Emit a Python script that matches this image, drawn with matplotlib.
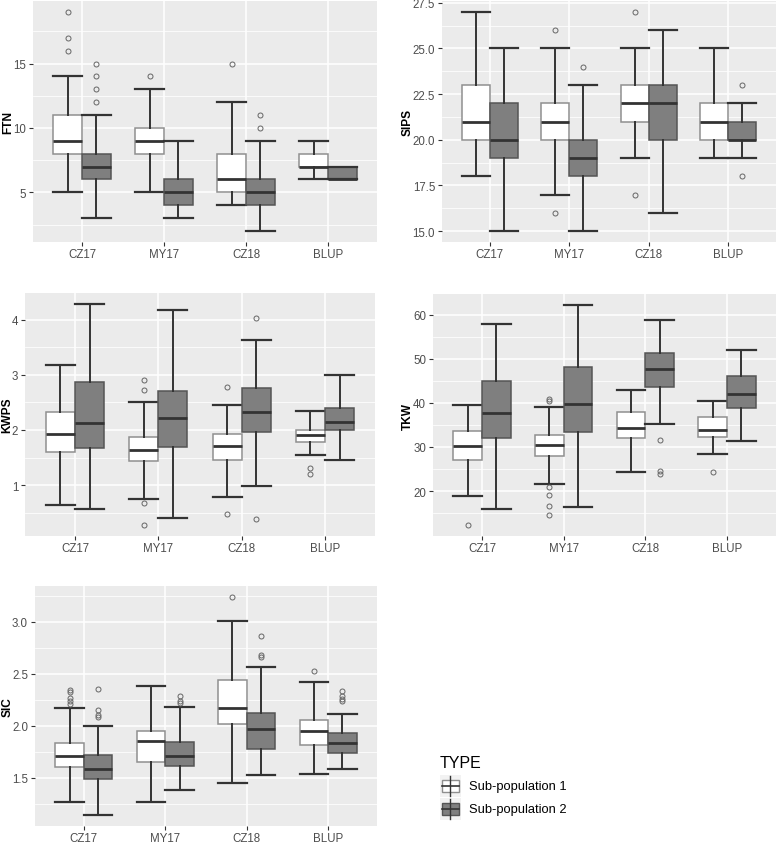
import matplotlib
matplotlib.use("Agg")
import matplotlib.pyplot as plt
from matplotlib.ticker import FixedLocator, FormatStrFormatter
from matplotlib.patches import Rectangle
from matplotlib.lines import Line2D

plt.rcParams['font.family'] = ['Liberation Sans', 'DejaVu Sans']

categories = ['CZ17', 'MY17', 'CZ18', 'BLUP']
groups = ['Sub-population 1', 'Sub-population 2']

# box stats per category: (whisker low, q1, median, q3, whisker high)
ftn_s1 = [(5, 8, 9, 11, 14), (5, 8, 9, 10, 13), (4, 5, 6, 8, 12), (6, 7, 7, 8, 9)]
ftn_s2 = [(3, 6, 7, 8, 11), (3, 4, 5, 6, 9), (2, 4, 5, 6, 9), (6, 6, 6, 7, 7)]
ftn_s1_out = [[16, 17, 19], [14], [15], []]
ftn_s2_out = [[12, 13, 14, 15], [], [10, 11], []]

sips_s1 = [(18, 20, 21, 23, 27), (17, 20, 21, 22, 25), (19, 21, 22, 23, 25), (19, 20, 21, 22, 25)]
sips_s2 = [(15, 19, 20, 22, 25), (15, 18, 19, 20, 23), (16, 20, 22, 23, 26), (19, 20, 20, 21, 22)]
sips_s1_out = [[], [16, 26], [17, 27], []]
sips_s2_out = [[], [24], [], [18, 23]]

kwps_s1 = [(0.65, 1.60, 1.93, 2.33, 3.18), (0.75, 1.44, 1.64, 1.88, 2.51),
           (0.79, 1.46, 1.71, 1.92, 2.46), (1.54, 1.79, 1.91, 2.00, 2.34)]
kwps_s2 = [(0.56, 1.67, 2.13, 2.86, 4.28), (0.41, 1.70, 2.22, 2.70, 4.17),
           (0.99, 1.97, 2.33, 2.76, 3.62), (1.45, 2.00, 2.15, 2.39, 3.00)]
kwps_s1_out = [[], [0.28, 0.67, 2.72, 2.90], [0.48, 2.78], [1.21, 1.32]]
kwps_s2_out = [[], [], [0.39, 4.02], []]

tkw_s1 = [(18.8, 27.0, 30.2, 33.7, 39.5), (21.5, 28.0, 30.4, 32.7, 39.0),
          (24.3, 32.1, 34.2, 38.0, 42.9), (28.3, 32.3, 33.9, 36.7, 40.5)]
tkw_s2 = [(16.0, 32.1, 37.8, 45.0, 58.0), (16.4, 33.5, 39.8, 48.1, 62.2),
          (35.2, 43.6, 47.7, 51.2, 58.9), (31.3, 38.8, 42.1, 46.0, 52.0)]
tkw_s1_out = [[12.3], [14.6, 16.5, 19.2, 21.0, 40.5, 40.8], [], [24.3]]
tkw_s2_out = [[], [], [23.8, 24.5, 31.5], []]

sic_s1 = [(1.27, 1.60, 1.71, 1.83, 2.17), (1.27, 1.65, 1.85, 1.95, 2.38),
          (1.45, 2.02, 2.17, 2.44, 3.01), (1.54, 1.81, 1.95, 2.06, 2.42)]
sic_s2 = [(1.14, 1.49, 1.58, 1.72, 2.00), (1.38, 1.61, 1.71, 1.84, 2.18),
          (1.53, 1.78, 1.97, 2.12, 2.57), (1.58, 1.74, 1.83, 1.93, 2.11)]
sic_s1_out = [[2.21, 2.24, 2.27, 2.32, 2.34], [], [3.24], [2.53]]
sic_s2_out = [[2.08, 2.10, 2.15, 2.35], [2.22, 2.24, 2.29], [2.66, 2.68, 2.86], [2.24, 2.26, 2.29, 2.33]]

W, H = 778, 845
fig = plt.figure(figsize=(W / 100, H / 100), dpi=100)

fills = ['white', '#7F7F7F']
edges = ['#8F8F8F', '#555555']
BG = '#EBEBEB'
TXT = '#4D4D4D'


def make_stats(s, out):
    res = []
    for (lo, q1, med, q3, hi), f in zip(s, out):
        res.append(dict(whislo=lo, q1=q1, med=med, q3=q3, whishi=hi, fliers=f))
    return res


def panel(box, name, label_x, s1, s2, o1, o2, major, minor, fmt):
    l, t, r, b = box
    ax = fig.add_axes([l / W, 1 - b / H, (r - l) / W, (b - t) / H])
    ax.set_facecolor(BG)
    for k, (s, o) in enumerate([(s1, o1), (s2, o2)]):
        pos = [i + 1 + (k - 0.5) * 0.35 for i in range(len(categories))]
        ax.bxp(make_stats(s, o), positions=pos, widths=0.35, capwidths=0.35,
               patch_artist=True, manage_ticks=False, zorder=3,
               boxprops=dict(facecolor=fills[k], edgecolor=edges[k], linewidth=1.1),
               medianprops=dict(color='#333333', linewidth=2.0),
               whiskerprops=dict(color='#333333', linewidth=1.4),
               capprops=dict(color='#333333', linewidth=1.6),
               flierprops=dict(marker='o', markersize=3.6, markerfacecolor='none',
                               markeredgecolor='#666666', markeredgewidth=0.7))
    ax.set_xlim(0.4, 4.6)
    ax.set_xticks(range(1, len(categories) + 1))
    ax.set_xticklabels(categories)
    ax.yaxis.set_major_locator(FixedLocator(major))
    ax.yaxis.set_minor_locator(FixedLocator(minor))
    ax.yaxis.set_major_formatter(FormatStrFormatter(fmt))
    ax.grid(True, which='major', color='white', linewidth=1.1, zorder=0)
    ax.grid(True, which='minor', axis='y', color='white', linewidth=0.55, zorder=0)
    ax.set_axisbelow(True)
    for sp in ax.spines.values():
        sp.set_visible(False)
    ax.tick_params(axis='both', which='major', length=3, color='#333333', width=0.8,
                   labelsize=8.3, labelcolor=TXT, pad=2)
    ax.tick_params(axis='x', which='major', pad=1)
    ax.tick_params(axis='y', which='minor', length=0)
    ax.set_ylabel(name, fontsize=8.6, fontweight='bold', color='black', va='center')
    ax.yaxis.set_label_coords((label_x - l) / (r - l), 0.5)
    return ax


panel((33, 2, 377, 243), 'FTN', 8, ftn_s1, ftn_s2, ftn_s1_out, ftn_s2_out,
      [5, 10, 15], [2.5, 7.5, 12.5, 17.5], '%g')
panel((442, 2, 776, 243), 'SIPS', 408, sips_s1, sips_s2, sips_s1_out, sips_s2_out,
      [15, 17.5, 20, 22.5, 25, 27.5], [16.25, 18.75, 21.25, 23.75, 26.25], '%.1f')
panel((25, 294, 375, 537), 'KWPS', 7, kwps_s1, kwps_s2, kwps_s1_out, kwps_s2_out,
      [1, 2, 3, 4], [0.5, 1.5, 2.5, 3.5, 4.5], '%g')
panel((433, 295, 776, 537), 'TKW', 408, tkw_s1, tkw_s2, tkw_s1_out, tkw_s2_out,
      [20, 30, 40, 50, 60], [15, 25, 35, 45, 55, 65], '%g')
panel((35, 587, 377, 827), 'SIC', 8, sic_s1, sic_s2, sic_s1_out, sic_s2_out,
      [1.5, 2.0, 2.5, 3.0], [1.25, 1.75, 2.25, 2.75, 3.25], '%.1f')

# legend, drawn in pixel coords of a small axes
lg = fig.add_axes([0, 0, 1, 1])
lg.set_xlim(0, W)
lg.set_ylim(H, 0)
lg.axis('off')
lg.text(440, 764, 'TYPE', fontsize=11.5, color='black', va='center', ha='left')
for k, g in enumerate(groups):
    cy = 787 + k * 23
    lg.add_patch(Rectangle((440, cy - 11), 21, 22, facecolor='#F2F2F2', edgecolor='none'))
    lg.add_line(Line2D([450.5, 450.5], [cy - 10, cy + 10], color='#333333', linewidth=1))
    lg.add_patch(Rectangle((442, cy - 6), 17, 12, facecolor=fills[k], edgecolor=edges[k], linewidth=1))
    lg.add_line(Line2D([442, 459], [cy, cy], color='#333333', linewidth=1.2))
    lg.text(469, cy, g, fontsize=9.3, color='black', va='center', ha='left')

fig.savefig('out.png', dpi=100)
